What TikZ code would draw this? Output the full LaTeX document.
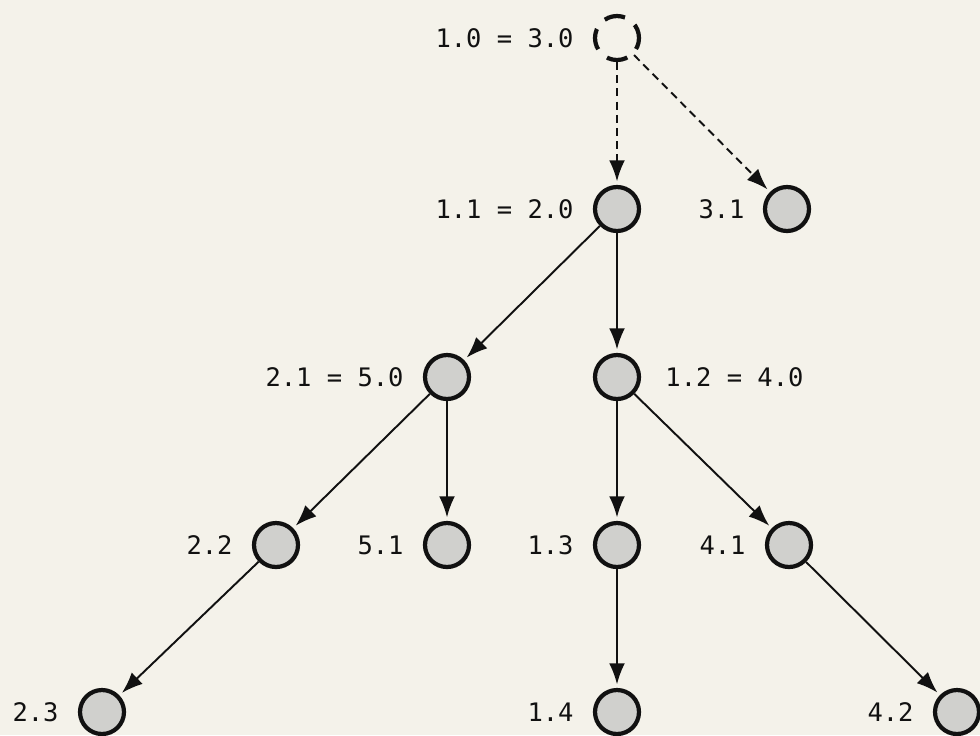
\documentclass[tikz,border=0pt]{standalone}
\usepackage{fontspec}
\setmonofont{DejaVu Sans Mono}
\usetikzlibrary{arrows.meta,positioning}
\definecolor{TRPaper}{HTML}{F4F2EA}
\definecolor{TRFill} {HTML}{D0D0CD}
\definecolor{TRInk}  {HTML}{111111}

\begin{document}
\begin{tikzpicture}[x=0.02cm,y=-0.02cm,
    st/.style={circle,draw=TRInk,line width=2.4pt,fill=TRFill,minimum size=0.88cm,inner sep=0pt},
    root/.style={st,fill=none,dash pattern=on 12pt off 7pt,dash phase=4pt},
    lbl/.style={font=\fontsize{14.5}{16}\ttfamily,text=TRInk,inner sep=0pt},
    tr/.style={-{Latex[length=12pt,width=9pt]},TRInk,line width=1.1pt,shorten >=2pt},
    trd/.style={tr,dash pattern=on 4.5pt off 3pt}
  ]
    \fill[TRPaper](0,0) rectangle (980,735);
    \useasboundingbox (0,0) rectangle (980,735);
    % states
    \node[root](n10) at (617,38)  {};
    \node[st](n11) at (617,209) {};
    \node[st](n31) at (787,209) {};
    \node[st](n21) at (447,377) {};
    \node[st](n12) at (617,377) {};
    \node[st](n22) at (276,545) {};
    \node[st](n51) at (447,545) {};
    \node[st](n13) at (617,545) {};
    \node[st](n41) at (789,545) {};
    \node[st](n23) at (102,712) {};
    \node[st](n14) at (617,712) {};
    \node[st](n42) at (957,712) {};
    % labels
    \node[lbl,left=0.38cm of n10](t10){1.0 = 3.0};
    \node[lbl,left=0.38cm of n11](t11){1.1 = 2.0};
    \node[lbl,left=0.36cm of n31](t31){3.1};
    \node[lbl,left=0.38cm of n21](t21){2.1 = 5.0};
    \node[lbl,right=0.48cm of n12](t12){1.2 = 4.0};
    \node[lbl,left=0.38cm of n22](t22){2.2};
    \node[lbl,left=0.38cm of n51](t51){5.1};
    \node[lbl,left=0.38cm of n13](t13){1.3};
    \node[lbl,left=0.38cm of n41](t41){4.1};
    \node[lbl,left=0.38cm of n23](t23){2.3};
    \node[lbl,left=0.38cm of n14](t14){1.4};
    \node[lbl,left=0.38cm of n42](t42){4.2};
    % transitions
    \draw[trd](n10)--(n11);
    \draw[trd](n10)--(n31);
    \foreach \a/\b in {n11/n21,n11/n12,n21/n22,n21/n51,n12/n13,n12/n41,n22/n23,n13/n14,n41/n42}
      \draw[tr](\a)--(\b);
\end{tikzpicture}
\end{document}
